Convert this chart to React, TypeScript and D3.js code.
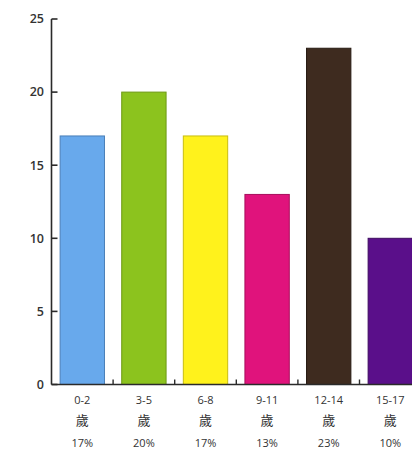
import React from "react";
import * as d3 from "d3";

const categories = ["0-2", "3-5", "6-8", "9-11", "12-14", "15-17"];
const values = [17, 20, 17, 13, 23, 10];
const percents = ["17%", "20%", "17%", "13%", "23%", "10%"];
const unitLabel = "歲";
const colors = ["#68a9ec", "#8cc31e", "#fff21c", "#e0137c", "#3e2b1f", "#5a0f8a"];
const strokes = ["#4a7fb8", "#6e9a14", "#c9bd10", "#a80e5c", "#261a12", "#3e0a60"];
const yTicks = [0, 5, 10, 15, 20, 25];

export default function App() {
  const W = 412, H = 451;
  const axisX = 51.5;
  const y = d3.scaleLinear().domain([0, 25]).range([384.5, 19]);
  const x = d3.scaleBand<string>().domain(categories)
    .range([axisX, axisX + 6 * 61.6]).paddingInner(0.28).paddingOuter(0.14);
  const step = x.step();
  const font = "'Open Sans', 'Noto Sans', sans-serif";
  return (
    <svg width={W} height={H} style={{ position: "absolute", left: 0, top: 0, background: "#fff" }}>
      {categories.map((c, i) => (
        <rect key={c} x={x(c)!} y={y(values[i])} width={x.bandwidth()} height={y(0) - y(values[i])}
          fill={colors[i]} stroke={strokes[i]} strokeWidth={1} />
      ))}
      <line x1={axisX} x2={axisX} y1={y(25)} y2={y(0)} stroke="#2a2a2a" strokeWidth={1.6} />
      <line x1={axisX} x2={W} y1={y(0)} y2={y(0)} stroke="#2a2a2a" strokeWidth={1.6} />
      {yTicks.map(t => (
        <g key={t}>
          <line x1={axisX} x2={axisX + 6} y1={y(t)} y2={y(t)} stroke="#2a2a2a" strokeWidth={1.6} />
          <text x={44} y={y(t)} dy="0.35em" textAnchor="end" fontSize={12.5} fontWeight={600} fill="#333" fontFamily={font}>{t}</text>
        </g>
      ))}
      {categories.slice(1).map(c => {
        const xb = x(c)! - (step - x.bandwidth()) / 2;
        return <line key={c} x1={xb} x2={xb} y1={y(0)} y2={y(0) - 5} stroke="#2a2a2a" strokeWidth={1.4} />;
      })}
      {categories.map((c, i) => {
        const cx = x(c)! + x.bandwidth() / 2;
        return (
          <g key={c} fill="#333" fontSize={11} textAnchor="middle" fontFamily={font}>
            <text x={cx} y={404}>{c}</text>
            <text x={cx} y={425} fontSize={13} fontFamily="'Noto Sans CJK TC', sans-serif">{unitLabel}</text>
            <text x={cx} y={447}>{percents[i]}</text>
          </g>
        );
      })}
    </svg>
  );
}
